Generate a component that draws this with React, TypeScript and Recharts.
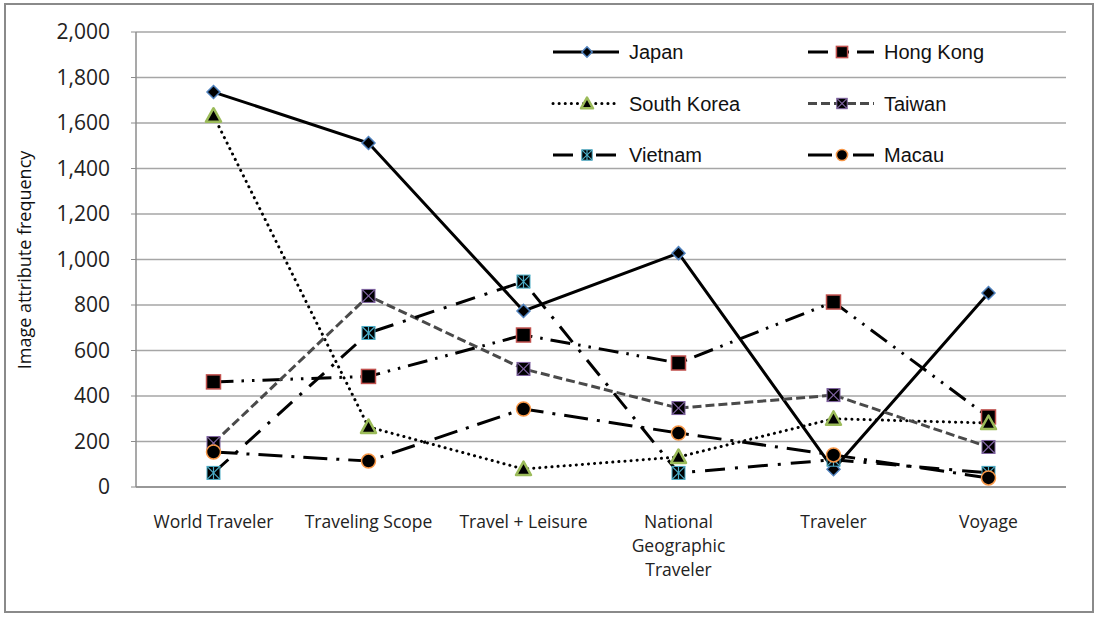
import React from 'react';
import { LineChart, Line, XAxis, YAxis, CartesianGrid, Legend, Text } from 'recharts';

const categories = ['World Traveler', 'Traveling Scope', 'Travel + Leisure', 'National Geographic Traveler', 'Traveler', 'Voyage'];
const japan = [1736, 1512, 774, 1028, 78, 853];
const hongKong = [462, 486, 668, 545, 813, 308];
const southKorea = [1632, 264, 79, 132, 300, 281];
const taiwan = [193, 840, 519, 347, 404, 176];
const vietnam = [62, 677, 903, 62, 120, 62];
const macau = [154, 114, 343, 237, 141, 40];
const yTicks = [0, 200, 400, 600, 800, 1000, 1200, 1400, 1600, 1800, 2000];

const data = categories.map((c, i) => ({
  name: c,
  Japan: japan[i],
  'Hong Kong': hongKong[i],
  'South Korea': southKorea[i],
  Taiwan: taiwan[i],
  Vietnam: vietnam[i],
  Macau: macau[i],
}));

type MarkerKind = 'diamond' | 'square' | 'triangle' | 'xsquare' | 'starsquare' | 'circle';

const Marker = ({ cx, cy, kind, s = 1 }: { cx: number; cy: number; kind: MarkerKind; s?: number }) => {
  if (cx == null || cy == null) return null;
  switch (kind) {
    case 'diamond': {
      const r = 6.5 * s;
      return <polygon points={`${cx},${cy - r} ${cx + r},${cy} ${cx},${cy + r} ${cx - r},${cy}`} fill="#000" stroke="#4F81BD" strokeWidth={1.5} />;
    }
    case 'square': {
      const h = 7 * s;
      return <rect x={cx - h} y={cy - h} width={2 * h} height={2 * h} fill="#000" stroke="#C0504D" strokeWidth={1.5} />;
    }
    case 'triangle': {
      const h = 7.5 * s;
      return <polygon points={`${cx},${cy - h} ${cx + h},${cy + h * 0.8} ${cx - h},${cy + h * 0.8}`} fill="#000" stroke="#9BBB59" strokeWidth={2.5} strokeLinejoin="round" />;
    }
    case 'xsquare': {
      const h = 6.5 * s;
      return (
        <g>
          <rect x={cx - h} y={cy - h} width={2 * h} height={2 * h} fill="#000" stroke="#8064A2" strokeWidth={1} />
          <line x1={cx - h} y1={cy - h} x2={cx + h} y2={cy + h} stroke="#8064A2" strokeWidth={1.2} />
          <line x1={cx + h} y1={cy - h} x2={cx - h} y2={cy + h} stroke="#8064A2" strokeWidth={1.2} />
        </g>
      );
    }
    case 'starsquare': {
      const h = 6.5 * s;
      return (
        <g>
          <rect x={cx - h} y={cy - h} width={2 * h} height={2 * h} fill="#000" stroke="#4BACC6" strokeWidth={1} />
          <line x1={cx - h} y1={cy - h} x2={cx + h} y2={cy + h} stroke="#4BACC6" strokeWidth={1.2} />
          <line x1={cx + h} y1={cy - h} x2={cx - h} y2={cy + h} stroke="#4BACC6" strokeWidth={1.2} />
          <line x1={cx} y1={cy - h} x2={cx} y2={cy + h} stroke="#4BACC6" strokeWidth={1.2} />
        </g>
      );
    }
    case 'circle':
    default:
      return <circle cx={cx} cy={cy} r={7 * s} fill="#000" stroke="#F79646" strokeWidth={1.5} />;
  }
};

const SERIES: { key: string; marker: MarkerKind; dash?: string; stroke: string; cap?: 'round' | 'butt' }[] = [
  { key: 'Japan', marker: 'diamond', stroke: '#000' },
  { key: 'Hong Kong', marker: 'square', dash: '20 8 2.5 8 2.5 8', stroke: '#000' },
  { key: 'South Korea', marker: 'triangle', dash: '0.1 6', stroke: '#000', cap: 'round' },
  { key: 'Taiwan', marker: 'xsquare', dash: '9 4', stroke: '#4a4a4a' },
  { key: 'Vietnam', marker: 'starsquare', dash: '20 10 3 10', stroke: '#000' },
  { key: 'Macau', marker: 'circle', dash: '24 9 3 9', stroke: '#000' },
];

const XTick = (props: any) => {
  const { x, y, payload } = props;
  return (
    <Text
      x={x}
      y={y + 21}
      width={150}
      textAnchor="middle"
      verticalAnchor="start"
      lineHeight={24}
      style={{ fontFamily: '"Open Sans"', fontSize: 17.5, fill: '#222' }}
    >
      {payload.value}
    </Text>
  );
};

const renderLegend = () => {
  const colX = [0, 255];
  return (
    <svg width={480} height={150} style={{ display: 'block', overflow: 'visible' }}>
      {SERIES.map((s, i) => {
        const col = i % 2;
        const row = Math.floor(i / 2);
        const x0 = colX[col];
        const y = 22 + row * 51.5;
        return (
          <g key={s.key}>
            <line x1={x0 + 8} y1={y} x2={x0 + 74} y2={y} stroke={s.stroke} strokeWidth={3} strokeDasharray={s.dash} strokeLinecap={s.cap || 'butt'} />
            <Marker cx={x0 + 42} cy={y} kind={s.marker} s={0.8} />
            <text x={x0 + 84} y={y} dominantBaseline="central" style={{ fontFamily: '"Liberation Sans", Arial', fontSize: 20, fill: '#111' }}>
              {s.key}
            </text>
          </g>
        );
      })}
    </svg>
  );
};

const YLabel = () => (
  <text
    x={24}
    y={260}
    transform="rotate(-90, 24, 260)"
    textAnchor="middle"
    dominantBaseline="central"
    style={{ fontFamily: '"Open Sans"', fontSize: 18, fill: '#111' }}
  >
    Image attribute frequency
  </text>
);

export default function App() {
  return (
    <div style={{ position: 'absolute', left: 0, top: 0, width: 1098, height: 617, background: '#fff' }}>
      <div style={{ position: 'absolute', left: 4, top: 3, width: 1090, height: 610, border: '2px solid #8a8a8a', boxSizing: 'border-box' }} />
      <LineChart width={1098} height={617} data={data} margin={{ top: 32, right: 32, bottom: 0, left: 0 }}>
        <CartesianGrid vertical={false} stroke="#a6a6a6" strokeWidth={1.5} />
        <XAxis
          dataKey="name"
          height={130}
          padding={{ left: 77.5, right: 77.5 }}
          axisLine={{ stroke: '#8c8c8c', strokeWidth: 1.5 }}
          tickLine={false}
          tick={<XTick />}
          interval={0}
        />
        <YAxis
          width={136}
          domain={[0, 2000]}
          ticks={yTicks}
          interval={0}
          axisLine={{ stroke: '#8c8c8c', strokeWidth: 1.5 }}
          tickLine={{ stroke: '#8c8c8c' }}
          tickSize={5}
          tickMargin={21}
          tickFormatter={(v: number) => v.toLocaleString('en-US')}
          tick={{ fontFamily: '"Open Sans"', fontSize: 21, fill: '#222' }}
          label={<YLabel />}
        />
        <Legend
          layout="vertical"
          align="center"
          verticalAlign="middle"
          content={renderLegend}
          wrapperStyle={{ position: 'absolute', left: 545, top: 30, width: 480, height: 150 }}
        />
        {SERIES.map((s) => (
          <Line
            key={s.key}
            type="linear"
            dataKey={s.key}
            stroke={s.stroke}
            strokeWidth={3}
            strokeDasharray={s.dash}
            strokeLinecap={s.cap || 'butt'}
            isAnimationActive={false}
            dot={(p: any) => <Marker key={`${s.key}-${p.index}`} cx={p.cx} cy={p.cy} kind={s.marker} />}
            activeDot={false}
          />
        ))}
      </LineChart>
    </div>
  );
}
